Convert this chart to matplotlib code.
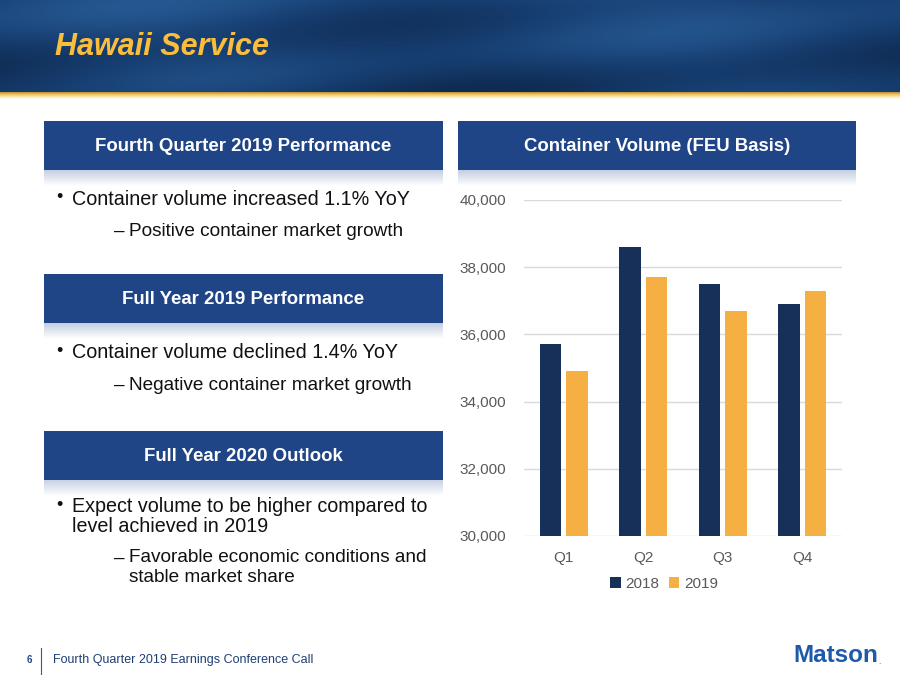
import numpy as np
import matplotlib
matplotlib.use('Agg')
import matplotlib.pyplot as plt
from matplotlib.patches import Rectangle
from matplotlib.ticker import FuncFormatter

plt.rcParams['font.family'] = ['Liberation Sans', 'DejaVu Sans']

# data
quarters = ['Q1', 'Q2', 'Q3', 'Q4']
vol_2018 = [35700, 38600, 37500, 36900]
vol_2019 = [34900, 37700, 36700, 37300]
series_names = ['2018', '2019']
yticks = [30000, 32000, 34000, 36000, 38000, 40000]

NAVY = '#17305a'
GOLD = '#f5af42'
BOX = '#1f4587'

W, H = 900, 675
fig = plt.figure(figsize=(9, 6.75), dpi=100)


def px_axes(x0, y0, x1, y1, **kw):
    # pixel box (top-left origin) -> axes
    return fig.add_axes([x0 / W, 1 - y1 / H, (x1 - x0) / W, (y1 - y0) / H], **kw)


# header band (ocean-ish gradient)
ax_hd = px_axes(0, 0, 900, 92)
xx, yy = np.meshgrid(np.linspace(0, 1, 300), np.linspace(0, 1, 40))
wave = 0.5 + 0.25 * np.sin(9 * xx + 3 * yy) * np.cos(4 * yy - 2 * xx) + 0.2 * (1 - yy)
ax_hd.imshow(wave, cmap=matplotlib.colors.LinearSegmentedColormap.from_list(
    'sea', ['#0e2a50', '#173f72', '#255790']), aspect='auto', extent=[0, 1, 0, 1])
ax_hd.axis('off')
fig.text(55 / W, 1 - 47 / H, 'Hawaii Service', fontsize=22, fontweight='bold',
         fontstyle='italic', color='#fbbd3c', va='center', ha='left')

# gold strip under header
ax_st = px_axes(0, 92, 900, 99)
strip = np.linspace(0, 1, 20).reshape(-1, 1)
ax_st.imshow(strip, cmap=matplotlib.colors.LinearSegmentedColormap.from_list(
    'gold', ['#b8913a', '#f3c45c', '#fbe4a6', '#ffffff']), aspect='auto', extent=[0, 1, 0, 1])
ax_st.axis('off')


def section_box(x0, y0, x1, y1, label):
    ax = px_axes(x0, y0, x1, y1)
    ax.set_xlim(0, 1)
    ax.set_ylim(0, 1)
    ax.add_patch(Rectangle((0, 0), 1, 1, color=BOX))
    ax.text(0.5, 0.47, label, color='white', fontsize=13.4, fontweight='bold',
            ha='center', va='center')
    ax.axis('off')
    # soft shadow under the box
    sh = px_axes(x0, y1, x1, y1 + 16)
    grad = np.linspace(0, 1, 30).reshape(-1, 1)
    sh.imshow(grad, cmap=matplotlib.colors.LinearSegmentedColormap.from_list(
        'sh', ['#c3cfe0', '#ffffff']), aspect='auto', extent=[0, 1, 0, 1])
    sh.axis('off')


section_box(44, 121, 443, 170, 'Fourth Quarter 2019 Performance')
section_box(458, 121, 856, 170, 'Container Volume (FEU Basis)')
section_box(44, 274, 443, 323, 'Full Year 2019 Performance')
section_box(44, 431, 443, 480, 'Full Year 2020 Outlook')


def txt(x, y, s, size=14.2, **kw):
    fig.text(x / W, 1 - y / H, s, fontsize=size, color='#111111', va='center', ha='left', **kw)


def bullet(y, lines):
    txt(56, y - 1, '•', size=13)
    for i, s in enumerate(lines):
        txt(72, y + 20 * i, s)


def sub(y, lines):
    txt(114, y, '–', size=13.7)
    for i, s in enumerate(lines):
        txt(129, y + 20 * i, s, size=13.7)


bullet(199, ['Container volume increased 1.1% YoY'])
sub(231, ['Positive container market growth'])
bullet(353, ['Container volume declined 1.4% YoY'])
sub(385, ['Negative container market growth'])
bullet(507, ['Expect volume to be higher compared to', 'level achieved in 2019'])
sub(558, ['Favorable economic conditions and', 'stable market share'])

# bar chart
ax = px_axes(524, 200, 842, 536)
x = np.arange(len(quarters))
bw = 0.273
off = 0.166
ax.bar(x - off, vol_2018, bw, color=NAVY, label=series_names[0], zorder=3)
ax.bar(x + off, vol_2019, bw, color=GOLD, label=series_names[1], zorder=3)
ax.set_xlim(-0.5, 3.5)
ax.set_ylim(30000, 40000)
ax.set_yticks(yticks)
ax.yaxis.set_major_formatter(FuncFormatter(lambda v, p: f'{int(v):,}'))
ax.set_xticks(x)
ax.set_xticklabels(quarters)
ax.grid(axis='y', color='#d9d9d9', linewidth=1, zorder=0)
for s in ax.spines.values():
    s.set_visible(False)
ax.tick_params(length=0, labelsize=11, colors='#595959', pad=11)
ax.tick_params(axis='y', pad=13)
leg = ax.legend(loc='upper center', bbox_to_anchor=(0.44, -0.08), ncol=2, frameon=False,
                fontsize=11, handlelength=0.7, handleheight=0.7, handletextpad=0.3,
                columnspacing=0.6)
for t in leg.get_texts():
    t.set_color('#595959')

# footer
fig.text(27 / W, 1 - 660 / H, '6', fontsize=7, fontweight='bold', color='#1f4587',
         ha='left', va='center')
fig.add_artist(plt.Line2D([41 / W, 41 / W], [1 - 648 / H, 0], color='#555555', linewidth=0.8))
fig.text(53 / W, 1 - 660 / H, 'Fourth Quarter 2019 Earnings Conference Call', fontsize=9,
         color='#1f3f74', ha='left', va='center')
fig.text(878 / W, 1 - 656 / H, 'Matson', fontsize=17.5, fontweight='bold',
         color='#1f5aa8', ha='right', va='center')
fig.text(878 / W, 1 - 662 / H, '.', fontsize=6, color='#1f5aa8', ha='left', va='center')

fig.savefig('out.png', dpi=100)
